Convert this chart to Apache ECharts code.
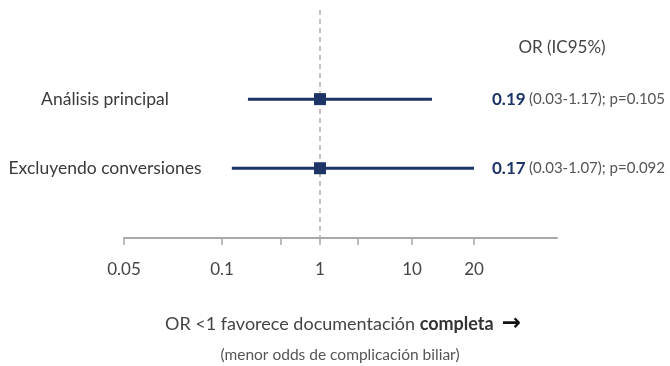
<!DOCTYPE html>
<html><head><meta charset="utf-8">
<script src="https://cdn.jsdelivr.net/npm/echarts@6/dist/echarts.min.js"></script>
<style>html,body{margin:0;background:#fff}#c{width:670px;height:366px}</style>
</head><body><div id="c"></div>
<script>
// ---- data (as drawn in the picture) ----
const rowLabels = ['Análisis principal', 'Excluyendo conversiones'];
const orPoint = [1, 1];
const ciLower = [0.184, 0.126];
const ciUpper = [12.5, 20];
const orText = ['0.19', '0.17'];
const ciText = ['(0.03-1.17); p=0.105', '(0.03-1.07); p=0.092'];
const tickValues = [0.05, 0.1, 1, 10, 20];
const tickLabels = ['0.05', '0.1', '1', '10', '20'];
const minorTickValues = [0.4, 2.6];
const headerText = 'OR (IC95%)';
const footLine1 = 'OR <1 favorece documentación ';
const footBold = 'completa';
const footLine2 = '(menor odds de complicación biliar)';

// ---- custom (non-uniform) log scale of the drawn axis ----
const anchorPos = [0, 98, 196, 288, 350];
function toPos(v) {
  const lv = Math.log10(v);
  const la = tickValues.map(Math.log10);
  let i = 0;
  while (i < la.length - 2 && lv > la[i + 1]) i++;
  return anchorPos[i] + (lv - la[i]) / (la[i + 1] - la[i]) * (anchorPos[i + 1] - anchorPos[i]);
}
const FONT = 'Lato';
const NAVY = '#1d3466';
const posLabelMap = {};
tickValues.forEach((v, i) => { posLabelMap[toPos(v).toFixed(3)] = tickLabels[i]; });

const rows = rowLabels.map((l, i) => [toPos(ciLower[i]), toPos(orPoint[i]), toPos(ciUpper[i]), i]);

const chart = echarts.init(document.getElementById('c'));
chart.setOption({
  animation: false,
  grid: { left: 124, width: 433, top: 10, height: 228 },
  xAxis: {
    type: 'value', min: 0, max: 433, position: 'bottom',
    splitLine: { show: false },
    axisLine: { show: true, onZero: false, lineStyle: { color: '#a8a8a8', width: 2 } },
    axisTick: { show: true, length: 7, lineStyle: { color: '#a8a8a8', width: 1.5 },
      customValues: tickValues.concat(minorTickValues).map(toPos) },
    axisLabel: { show: true, margin: 23, fontFamily: FONT, fontSize: 17, color: '#444',
      customValues: tickValues.map(toPos),
      formatter: v => posLabelMap[Number(v).toFixed(3)] || '' }
  },
  yAxis: { type: 'value', inverse: true, min: -1.29, max: 2.01, show: false },
  series: [{
    type: 'line', data: [], z: 1,
    markLine: {
      symbol: 'none', silent: true, label: { show: false },
      lineStyle: { color: '#b0b0b0', type: [5, 4], width: 1.5 },
      data: [{ xAxis: toPos(1) }]
    }
  }, {
    type: 'custom', z: 5,
    data: rows,
    encode: { x: [0, 1, 2], y: 3 },
    renderItem: function (params, api) {
      const r = api.value(3);
      const a = api.coord([api.value(0), r]);
      const m = api.coord([api.value(1), r]);
      const b = api.coord([api.value(2), r]);
      const s = 12;
      return { type: 'group', children: [
        { type: 'line', shape: { x1: a[0], y1: a[1], x2: b[0], y2: b[1] },
          style: { stroke: NAVY, lineWidth: 3 } },
        { type: 'rect', shape: { x: m[0] - s / 2, y: m[1] - s / 2, width: s, height: s },
          style: { fill: NAVY } },
        { type: 'text', x: 105, y: m[1],
          style: { text: rowLabels[r], fill: '#3a3a3a', font: '17.5px ' + FONT,
            align: 'center', verticalAlign: 'middle' } },
        { type: 'text', x: 492, y: m[1],
          style: { text: '{b|' + orText[r] + '} {g|' + ciText[r] + '}',
            align: 'left', verticalAlign: 'middle',
            rich: {
              b: { fontFamily: FONT, fontSize: 17, fontWeight: 'bold', fill: NAVY },
              g: { fontFamily: FONT, fontSize: 15, fill: '#555' }
            } } }
      ] };
    }
  }],
  graphic: [
    { type: 'text', x: 562, y: 48,
      style: { text: headerText, font: '17px ' + FONT, fill: '#444', align: 'center', verticalAlign: 'middle' } },
    { type: 'text', x: 343, y: 324,
      style: { text: '{n|' + footLine1 + '}{k|' + footBold + '}{a| →}',
        align: 'center', verticalAlign: 'middle',
        rich: {
          n: { fontFamily: FONT, fontSize: 18, fill: '#444' },
          k: { fontFamily: FONT, fontSize: 18, fontWeight: 'bold', fill: '#333' },
          a: { fontFamily: 'DejaVu Sans', fontSize: 23, fontWeight: 'bold', fill: '#111' }
        } } },
    { type: 'text', x: 340, y: 355,
      style: { text: footLine2, font: '15.5px ' + FONT, fill: '#555', align: 'center', verticalAlign: 'middle' } }
  ]
});
</script></body></html>
